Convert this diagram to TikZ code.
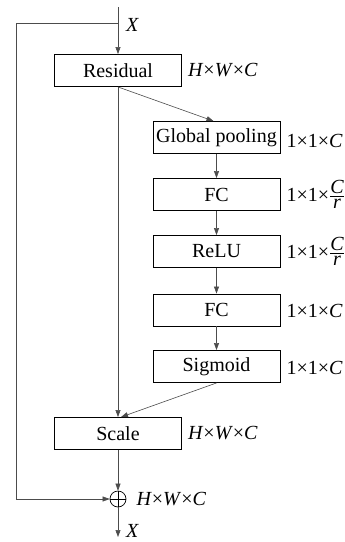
\documentclass[tikz,border=0pt]{standalone}
\usepackage{fontspec}
\setmainfont{Liberation Serif}
\usetikzlibrary{arrows.meta,calc}
\tikzset{
  blk/.style={draw=black, line width=0.9pt, minimum width=127pt, minimum height=32pt, inner sep=0pt, font=\fontsize{20}{22}\selectfont},
  lbl/.style={anchor=west, inner sep=0pt, font=\fontsize{20}{22}\selectfont},
  conn/.style={draw=black!70, line width=0.6pt, -{Triangle[length=7pt,width=5pt]}},
  plain/.style={draw=black!70, line width=0.6pt}
}
\newcommand{\dimhwc}{\textit{H}×\textit{W}×\textit{C}}
\newcommand{\dimc}{1×1×\textit{C}}
\newcommand{\dimcr}{1×1×$\frac{\mbox{\itshape C}}{\mbox{\itshape r}}$}
\begin{document}
\begin{tikzpicture}[x=1pt,y=-1pt]
\useasboundingbox (0,0) rectangle (345,542);
% main path boxes
\node[blk] (res) at (118,70.5) {Residual};
\node[blk] (gp) at (216.5,137.5) {Global pooling};
\node[blk] (fc1) at (216.5,194.5) {FC};
\node[blk] (relu) at (216.5,251.5) {ReLU};
\node[blk] (fc2) at (216.5,310) {FC};
\node[blk] (sig) at (216.5,366.5) {Sigmoid};
\node[blk] (scale) at (118,433.5) {Scale};
% sum node
\node[draw=black, line width=0.7pt, circle, minimum size=16pt, inner sep=0pt] (sum) at (118,499) {};
\draw[line width=0.7pt] (sum.north) -- (sum.south) (sum.west) -- (sum.east);
% input / output ends
\coordinate (in) at (118,7);
\coordinate (split) at (118,23);
\coordinate (corner1) at (16,23);
\coordinate (corner2) at (16,499);
\coordinate (out) at (118,537);
% size labels
\node[lbl] (xin) at (126,25) {\textit{X}};
\node[lbl] at ($(res.east)+(6,0)$) {\dimhwc};
\node[lbl] at ($(gp.east)+(6,3)$) {\dimc};
\node[lbl] at ($(fc1.east)+(6,0)$) {\dimcr};
\node[lbl] at ($(relu.east)+(6,0)$) {\dimcr};
\node[lbl] at ($(fc2.east)+(6,1)$) {\dimc};
\node[lbl] at ($(sig.east)+(6,1)$) {\dimc};
\node[lbl] at ($(scale.east)+(6,0)$) {\dimhwc};
\node[lbl] at ($(sum.east)+(10,0)$) {\dimhwc};
\node[lbl] (xout) at (126,531) {\textit{X}};
% connectors
\draw[conn] (in) -- (res.north);
\draw[plain] (split) -- (corner1) -- (corner2);
\draw[conn] (corner2) -- (sum.west);
\draw[conn] (res.south) -- ($(gp.north)+(-3,0)$);
\draw[conn] (gp) -- (fc1);
\draw[conn] (fc1) -- (relu);
\draw[conn] (relu) -- (fc2);
\draw[conn] (fc2) -- (sig);
\draw[conn] (res.south) -- (scale.north);
\draw[conn] (sig.south) -- ($(scale.north)+(3,0)$);
\draw[conn] (scale) -- (sum);
\draw[conn] (sum) -- (out);
\end{tikzpicture}
\end{document}
